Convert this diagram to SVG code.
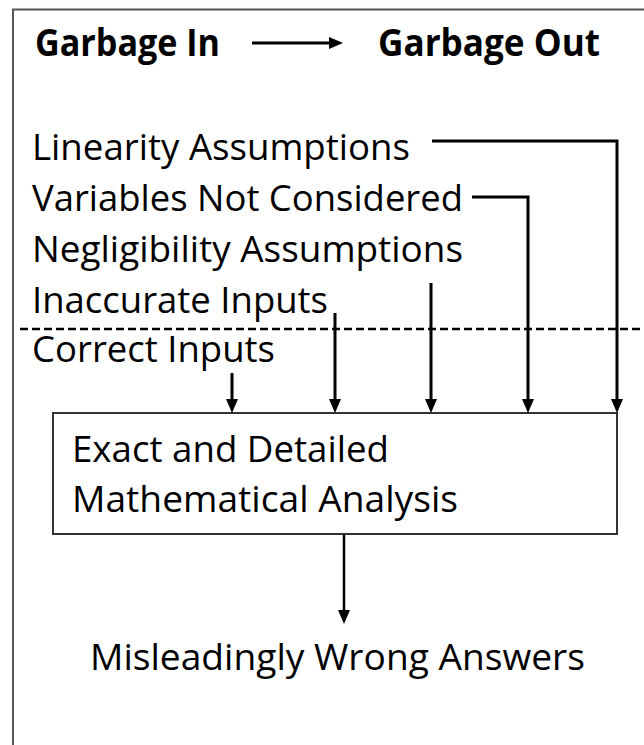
<svg xmlns="http://www.w3.org/2000/svg" width="644" height="745" viewBox="0 0 644 745">
  <style>
    .t { font-family: "Open Sans", "Lato", "Liberation Sans", sans-serif; font-size: 37px; fill: #000; }
    .b { font-weight: bold; }
    .c { fill: none; stroke: #000; stroke-width: 3; }
    .frame { fill: none; stroke: #555; stroke-width: 2; }
    .box { fill: #fff; stroke: #333; stroke-width: 2; }
    .dash { fill: none; stroke: #000; stroke-width: 2.5; stroke-dasharray: 8 4; }
  </style>
  <defs>
    <marker id="ah" viewBox="0 0 14 12" refX="8" refY="6" markerWidth="14" markerHeight="12" orient="auto" markerUnits="userSpaceOnUse">
      <path d="M0,0 L14,6 L0,12 z" fill="#000"/>
    </marker>
  </defs>

  <rect class="frame" x="13" y="9.5" width="700" height="800"/>

  <g id="title">
    <text class="t b" x="35" y="56" textLength="185" lengthAdjust="spacingAndGlyphs">Garbage In</text>
    <text class="t b" x="378" y="56" textLength="222" lengthAdjust="spacingAndGlyphs">Garbage Out</text>
  </g>

  <g id="linearity"><text class="t" x="32" y="160" textLength="378" lengthAdjust="spacingAndGlyphs">Linearity Assumptions</text></g>
  <g id="variables"><text class="t" x="32" y="211" textLength="431" lengthAdjust="spacingAndGlyphs">Variables Not Considered</text></g>
  <g id="negligibility"><text class="t" x="32" y="262" textLength="431" lengthAdjust="spacingAndGlyphs">Negligibility Assumptions</text></g>
  <g id="inaccurate"><text class="t" x="32" y="313" textLength="296" lengthAdjust="spacingAndGlyphs">Inaccurate Inputs</text></g>
  <g id="divider"><line class="dash" x1="20" y1="329" x2="644" y2="329"/></g>
  <g id="correct"><text class="t" x="32" y="362" textLength="243" lengthAdjust="spacingAndGlyphs">Correct Inputs</text></g>

  <g id="analysis">
    <rect class="box" x="53" y="413" width="564" height="121"/>
    <text class="t" x="72" y="462" textLength="317" lengthAdjust="spacingAndGlyphs">Exact and Detailed</text>
    <text class="t" x="72" y="512" textLength="386" lengthAdjust="spacingAndGlyphs">Mathematical Analysis</text>
  </g>

  <g id="answers"><text class="t" x="90" y="670" textLength="495" lengthAdjust="spacingAndGlyphs">Misleadingly Wrong Answers</text></g>

  <g id="connectors">
    <path class="c" d="M252,43 H337" marker-end="url(#ah)"/>
    <path class="c" d="M432,141 H617 V407" marker-end="url(#ah)"/>
    <path class="c" d="M472,197 H528 V407" marker-end="url(#ah)"/>
    <path class="c" d="M431,283 V407" marker-end="url(#ah)"/>
    <path class="c" d="M335,313 V407" marker-end="url(#ah)"/>
    <path class="c" d="M232,373 V407" marker-end="url(#ah)"/>
    <path class="c" d="M344,535 V618" marker-end="url(#ah)" style="stroke-width:2.5"/>
  </g>
</svg>
